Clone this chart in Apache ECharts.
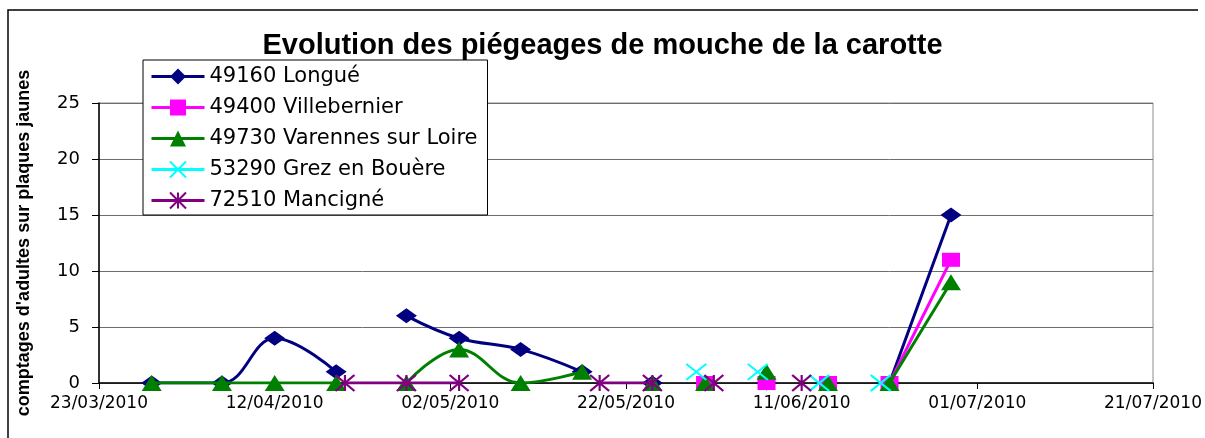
<!DOCTYPE html>
<html>
<head>
<meta charset="utf-8">
<script src="https://cdn.jsdelivr.net/npm/echarts@6/dist/echarts.min.js"></script>
<style>
  html, body { margin: 0; padding: 0; background: #fff; }
  #chart { width: 1205px; height: 438px; }
</style>
</head>
<body>
<div id="chart"></div>
<script>
// relevés (dates communes à toutes les stations, null = pas de relevé)
const dates = ['29/03/2010', '06/04/2010', '12/04/2010', '19/04/2010', '20/04/2010', '27/04/2010',
  '03/05/2010', '10/05/2010', '17/05/2010', '19/05/2010', '25/05/2010', '30/05/2010', '31/05/2010',
  '01/06/2010', '06/06/2010', '07/06/2010', '11/06/2010', '13/06/2010', '14/06/2010', '20/06/2010',
  '21/06/2010', '28/06/2010']
const longue = [0, 0, 4, 1, null, 6, 4, 3, 1, null, 0, null, null, null, null, 0, null, null, 0, null, 0, 15]
const villebernier = [null, null, null, null, null, null, null, null, null, null, null, null, 0, null, null, 0, null, null, 0, null, 0, 11]
const varennes = [0, 0, 0, 0, null, 0, 3, 0, 1, null, 0, null, 0, null, null, 1, null, null, 0, null, 0, 9]
const grez = [null, null, null, null, null, null, null, null, null, null, null, 1, null, null, 1, null, null, 0, null, 0, null, null]
const mancigne = [null, null, null, null, 0, 0, 0, null, null, 0, 0, null, null, 0, null, null, 0, null, null, null, null, null]

const seriesNames = ['49160 Longué', '49400 Villebernier', '49730 Varennes sur Loire', '53290 Grez en Bouère', '72510 Mancigné']
const axisStart = '23/03/2010'
const axisEnd = '21/07/2010'
const dayStep = 20

const DAY = 86400000
function parse(d) {
  const p = d.split('/')
  return Date.UTC(+p[2], +p[1] - 1, +p[0])
}
const t0 = parse(axisStart)
const toX = (d) => (parse(d) - t0) / DAY
function fmt(x) {
  const dt = new Date(t0 + x * DAY)
  const dd = String(dt.getUTCDate()).padStart(2, '0')
  const mm = String(dt.getUTCMonth() + 1).padStart(2, '0')
  return dd + '/' + mm + '/' + dt.getUTCFullYear()
}
const pairs = (vals) => dates.map((d, i) => [toX(d), vals[i] === null ? '-' : vals[i]])

const FONT = 'DejaVu Sans'
const chart = echarts.init(document.getElementById('chart'))

const styles = [
  { color: '#000080', symbol: 'diamond', size: [21, 15], smooth: 0.4 },
  { color: '#ff00ff', symbol: 'rect', size: [18, 14], smooth: 0.4 },
  { color: '#008000', symbol: 'triangle', size: [20, 16], smooth: 0.4 },
  { color: '#00ffff', symbol: 'path://M0,0L10,10M10,0L0,10', size: [20, 16], smooth: 0.4, stroke: true },
  { color: '#800080', symbol: 'path://M0,0L10,10M10,0L0,10M5,0L5,10', size: [19, 16], smooth: 0.4, stroke: true },
]
const values = [longue, villebernier, varennes, grez, mancigne]

chart.setOption({
  animation: false,
  backgroundColor: '#fff',
  title: {
    text: 'Evolution des piégeages de mouche de la carotte',
    left: 'center',
    top: 26,
    textStyle: { fontFamily: 'Liberation Sans', fontWeight: 'bold', fontSize: 29, color: '#000' },
  },
  graphic: [
    {
      type: 'polyline',
      shape: { points: [[8, 440], [8, 10], [1198, 10]] },
      style: { stroke: '#000', lineWidth: 1.5, fill: null },
      silent: true,
    },
  ],
  legend: {
    orient: 'vertical',
    left: 143,
    top: 60,
    padding: [6, 10, 4, 7],
    itemGap: 10,
    itemWidth: 53,
    itemHeight: 20,
    backgroundColor: '#fff',
    borderColor: '#000',
    borderWidth: 1,
    borderRadius: 0,
    lineStyle: { width: 3 },
    textStyle: { fontFamily: FONT, fontSize: 21, color: '#000' },
    data: seriesNames,
  },
  grid: {
    left: 99,
    right: 50,
    top: 103,
    bottom: 55,
    show: true,
    borderColor: '#8c8c8c',
    borderWidth: 1,
  },
  xAxis: {
    type: 'value',
    min: 0,
    max: toX(axisEnd),
    interval: dayStep,
    axisLine: { show: true, lineStyle: { color: '#000', width: 1.5 } },
    axisTick: { show: true, length: 6, lineStyle: { color: '#000' } },
    splitLine: { show: false },
    axisLabel: {
      margin: 12,
      fontFamily: FONT,
      fontSize: 17,
      color: '#000',
      formatter: (v) => fmt(v),
    },
  },
  yAxis: {
    type: 'value',
    min: 0,
    max: 25,
    interval: 5,
    name: "comptages d'adultes sur plaques jaunes",
    nameLocation: 'middle',
    nameRotate: 90,
    nameGap: 66,
    nameTextStyle: { fontFamily: 'Liberation Sans', fontWeight: 'bold', fontSize: 18, color: '#000' },
    axisLine: { show: true, lineStyle: { color: '#000', width: 1.5 } },
    axisTick: { show: true, length: 7, lineStyle: { color: '#000' } },
    splitLine: { show: true, lineStyle: { color: '#6e6e6e', width: 1 } },
    axisLabel: { margin: 19, fontFamily: FONT, fontSize: 18, color: '#000' },
  },
  series: seriesNames.map((name, i) => {
    const s = styles[i]
    return {
      name: name,
      type: 'line',
      data: pairs(values[i]),
      connectNulls: false,
      smooth: s.smooth,
      symbol: s.symbol,
      symbolSize: s.size,
      lineStyle: { color: s.color, width: 3 },
      itemStyle: s.stroke
        ? { color: s.color, borderColor: s.color, borderWidth: 2 }
        : { color: s.color, borderWidth: 0 },
      emphasis: { disabled: true },
      z: 2 + i,
    }
  }),
})
</script>
</body>
</html>
